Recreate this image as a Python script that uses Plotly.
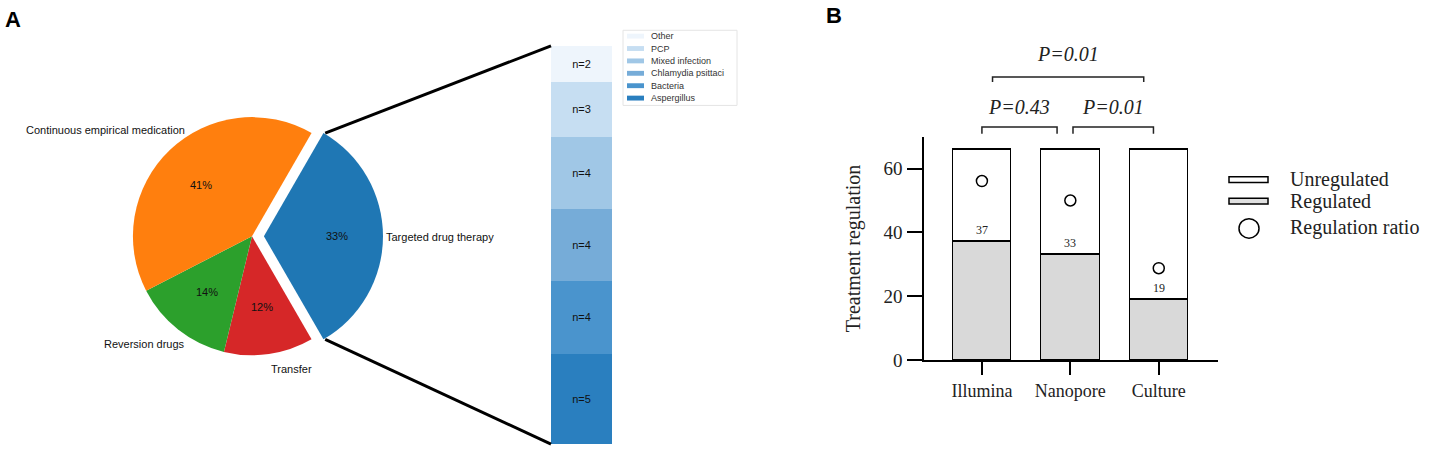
import math
import plotly.graph_objects as go

W, H = 1430, 460

# ---------------- data ----------------
# Panel A: outcome of treatment (pie)
pie_labels = ["Targeted drug therapy", "Transfer", "Reversion drugs",
              "Continuous empirical medication"]
pie_counts = [22, 8, 9, 27]
pie_colors = ["#1f77b4", "#d62728", "#2ca02c", "#ff7f0e"]

# Panel A: breakdown of targeted therapy (stacked bar, bottom -> top)
pathogens = ["Aspergillus", "Bacteria", "Chlamydia psittaci",
             "Mixed infection", "PCP", "Other"]
pathogen_n = [5, 4, 4, 4, 3, 2]
pathogen_colors = ["#2a7fbf", "#4a94cd", "#76acd8", "#a0c7e6", "#c6def2", "#eef5fc"]

# Panel B
methods = ["Illumina", "Nanopore", "Culture"]
regulated = [37, 33, 19]
unregulated = [29, 33, 47]
regulation_ratio = [56.1, 50.0, 28.8]
p_labels = ["P=0.43", "P=0.01", "P=0.01"]

SERIF = "Liberation Serif"
SANS = "Liberation Sans"


def px(x):
    return x / W


def py(y):
    return 1 - y / H


def note(x, y, text, size, family, color="#111", xanchor="center", yanchor="middle",
         xref="paper", yref="paper", **kw):
    d = dict(x=x, y=y, xref=xref, yref=yref, text=text, showarrow=False,
             xanchor=xanchor, yanchor=yanchor,
             font=dict(family=family, size=size, color=color))
    d.update(kw)
    return d


fig = go.Figure()
annotations = []
shapes = []

# ---------------- Panel A: pie ----------------
pie_cx, pie_cy, pie_r = 252, 242, 122
pull = [0.1, 0, 0, 0]
rotation = 30
box = 2 * pie_r * (1 + max(pull))
fig.add_trace(go.Pie(
    labels=pie_labels, values=pie_counts, sort=False, direction="clockwise",
    rotation=rotation, pull=pull, textinfo="none", hoverinfo="label+percent",
    marker=dict(colors=pie_colors, line=dict(width=0)), showlegend=False,
    domain=dict(x=[px(pie_cx - box / 2), px(pie_cx + box / 2)],
                y=[py(pie_cy + box / 2), py(pie_cy - box / 2)]),
))

# outside label placement (layout: pixel anchor and alignment per label)
label_layout = {
    "Targeted drug therapy": (384, 243, "left"),
    "Transfer": (269, 378, "left"),
    "Reversion drugs": (187, 352, "right"),
    "Continuous empirical medication": (187, 133, "right"),
}

total = sum(pie_counts)
start = rotation
slice_edges = []
for lab, v, pl in zip(pie_labels, pie_counts, pull):
    span = 360 * v / total
    mid = math.radians(start + span / 2)
    ox = pie_cx + pl * pie_r * math.sin(mid)
    oy = pie_cy - pl * pie_r * math.cos(mid)
    # percent text
    tx = ox + 0.6 * pie_r * math.sin(mid)
    ty = oy - 0.6 * pie_r * math.cos(mid)
    annotations.append(note(px(tx), py(ty), f"{round(100 * v / total)}%", 11, SANS))
    # label text
    lx, ly, anchor = label_layout[lab]
    annotations.append(note(px(lx), py(ly), lab, 11, SANS, xanchor=anchor))
    if pl > 0:
        a0 = math.radians(start)
        a1 = math.radians(start + span)
        slice_edges = [(ox + pie_r * math.sin(a0), oy - pie_r * math.cos(a0)),
                       (ox + pie_r * math.sin(a1), oy - pie_r * math.cos(a1))]
    start += span

# ---------------- Panel A: stacked bar ----------------
bar_x0, bar_x1, bar_y0, bar_y1 = 551, 612, 47, 455
for name, n, c in zip(pathogens, pathogen_n, pathogen_colors):
    fig.add_trace(go.Bar(
        x=[0], y=[n], width=1, name=name, marker=dict(color=c, line=dict(width=0)),
        text=[f"n={n}"], textposition="inside", insidetextanchor="middle", textangle=0,
        textfont=dict(family=SANS, size=11, color="#111"),
        xaxis="x2", yaxis="y2", showlegend=False,
        hovertemplate=name + ": %{y}<extra></extra>",
    ))

# connecting lines
(tx0, ty0), (tx1, ty1) = slice_edges
shapes.append(dict(type="line", xref="paper", yref="paper", x0=px(tx0), y0=py(ty0),
                   x1=px(bar_x0), y1=py(bar_y0), line=dict(color="black", width=3)))
shapes.append(dict(type="line", xref="paper", yref="paper", x0=px(tx1), y0=py(ty1),
                   x1=px(bar_x0), y1=py(bar_y1), line=dict(color="black", width=3)))

# legend A (top to bottom: reversed stacking order)
lg_x0, lg_y0, lg_x1, lg_y1 = 623, 31, 737, 108
shapes.append(dict(type="rect", xref="paper", yref="paper", x0=px(lg_x0), x1=px(lg_x1),
                   y0=py(lg_y1), y1=py(lg_y0), line=dict(color="#e4e4e4", width=1),
                   fillcolor="white"))
for i, (name, c) in enumerate(zip(pathogens[::-1], pathogen_colors[::-1])):
    yc = 37 + i * 12.7
    shapes.append(dict(type="rect", xref="paper", yref="paper", x0=px(627), x1=px(644),
                       y0=py(yc + 2.5), y1=py(yc - 2.5), line=dict(width=0), fillcolor=c))
    annotations.append(note(px(649), py(yc), name, 9, SANS, color="#333", xanchor="left"))

# ---------------- Panel B ----------------
fig.add_trace(go.Bar(
    x=methods, y=regulated, name="Regulated", width=0.66,
    marker=dict(color="#d9d9d9", line=dict(color="black", width=1.5)),
    xaxis="x", yaxis="y", showlegend=False,
))
fig.add_trace(go.Bar(
    x=methods, y=unregulated, name="Unregulated", width=0.66,
    marker=dict(color="white", line=dict(color="black", width=1.5)),
    xaxis="x", yaxis="y", showlegend=False,
))
fig.add_trace(go.Scatter(
    x=methods, y=regulation_ratio, mode="markers", name="Regulation ratio",
    marker=dict(symbol="circle", size=11, color="white", line=dict(color="black", width=1.5)),
    xaxis="x", yaxis="y", showlegend=False,
))
for m, r in zip(methods, regulated):
    annotations.append(note(m, r, str(r), 12, SERIF, color="#222", yanchor="bottom",
                            xref="x", yref="y", yshift=3))

# significance brackets
bracket_spans = [(0.0, 0.85), (1.03, 1.94), (0.12, 1.83)]
bracket_y = [130, 130, 79]
bracket_drop = [7, 7, 5]
text_y = [110, 110, 55]
for (a, b), yb, d, yt, lab in zip(bracket_spans, bracket_y, bracket_drop, text_y, p_labels):
    shapes.append(dict(type="path", xref="x", yref="paper",
                       path=f"M {a},{py(yb + d)} L {a},{py(yb)} L {b},{py(yb)} L {b},{py(yb + d)}",
                       line=dict(color="#222", width=1.5)))
    annotations.append(note((a + b) / 2, py(yt), f"<i>{lab}</i>", 20, SERIF, color="#222",
                            xref="x"))

# legend B
legB = [("Unregulated", "white", 184), ("Regulated", "#e0e0e0", 206)]
for name, c, yc in legB:
    shapes.append(dict(type="rect", xref="paper", yref="paper", x0=px(1229), x1=px(1268),
                       y0=py(yc + 3), y1=py(yc - 3), line=dict(color="black", width=1.5),
                       fillcolor=c))
    annotations.append(note(px(1288), py(yc), name, 20, SERIF, color="#222", xanchor="left"))
shapes.append(dict(type="circle", xref="paper", yref="paper", x0=px(1239), x1=px(1259),
                   y0=py(244), y1=py(224), line=dict(color="black", width=1.5)))
annotations.append(note(px(1288), py(233), "Regulation ratio", 20, SERIF, color="#222",
                        xanchor="left"))

# panel letters
annotations.append(note(px(13), py(20), "<b>A</b>", 22, SANS, color="black"))
annotations.append(note(px(834), py(16), "<b>B</b>", 22, SANS, color="black"))

fig.update_layout(
    width=W, height=H, margin=dict(l=0, r=0, t=0, b=0),
    paper_bgcolor="white", plot_bgcolor="white",
    barmode="stack", bargap=0,
    showlegend=False,
    xaxis=dict(domain=[px(924), px(1218)], anchor="y", range=[-0.655, 2.67],
               showline=True, linecolor="black", linewidth=1.5,
               ticks="outside", ticklen=13, tickwidth=1.5, tickcolor="black",
               showgrid=False, zeroline=False,
               tickfont=dict(family=SERIF, size=18, color="#222")),
    yaxis=dict(domain=[py(369), py(140)], anchor="x", range=[0, 70],
               tickvals=[0, 20, 40, 60], showline=True, linecolor="black", linewidth=1.5,
               ticks="outside", ticklen=15, tickwidth=1.5, tickcolor="black",
               showgrid=False, zeroline=False, ticklabelstandoff=1,
               tickfont=dict(family=SERIF, size=19, color="#222"),
               title=dict(text="Treatment regulation", standoff=17,
                          font=dict(family=SERIF, size=20, color="#222"))),
    xaxis2=dict(domain=[px(bar_x0), px(bar_x1)], anchor="y2", range=[-0.5, 0.5],
                visible=False, fixedrange=True),
    yaxis2=dict(domain=[py(bar_y1), py(bar_y0)], anchor="x2", range=[0, sum(pathogen_n)],
                visible=False, fixedrange=True),
    shapes=shapes,
    annotations=annotations,
)

fig.write_html(
    "out.html",
    config={"displayModeBar": False},
    post_script="document.body.style.margin='0';",
)
